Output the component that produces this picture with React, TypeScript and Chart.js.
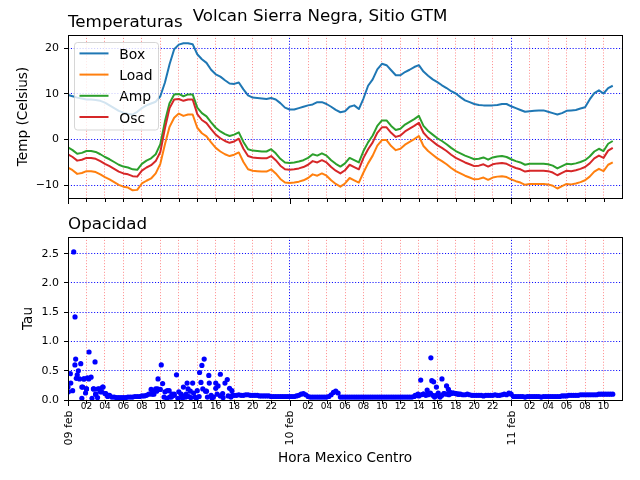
import React, { useEffect, useRef } from "react";
import { Chart, registerables } from "chart.js";

Chart.register(...registerables);

const FONT = '"DejaVu Sans", sans-serif';

// ---------- data ----------
const TEMP_STEP_HOURS = 0.5; // hours since 09 feb 00:00
const seriesNames = ["Box", "Load", "Amp", "Osc"];
const seriesColors = ["#1f77b4", "#ff7f0e", "#2ca02c", "#d62728"];

const boxTemp = [
  9.8, 9.5, 9.2, 9.0, 8.8, 8.8, 8.7, 8.5, 8.1, 7.5, 6.9, 6.3, 5.9, 5.6, 5.5, 6.1, 6.9, 7.5, 7.9, 8.3,
  9.5, 12.5, 16.5, 19.8, 20.8, 21.1, 21.1, 20.9, 18.7, 17.6, 16.8, 15.3, 14.3, 13.8, 13.0, 12.3, 12.2, 12.5, 11.0, 9.7,
  9.2, 9.1, 9.0, 8.9, 9.1, 8.8, 8.0, 7.0, 6.6, 6.6, 6.9, 7.2, 7.5, 7.7, 8.2, 8.2, 7.8, 7.2, 6.5, 6.0,
  6.2, 7.2, 7.5, 6.7, 9.0, 11.8, 13.2, 15.4, 16.6, 16.3, 15.2, 14.1, 14.1, 14.8, 15.3, 15.9, 16.3, 14.9, 14.0, 13.2,
  12.6, 11.9, 11.3, 10.6, 10.1, 9.3, 8.6, 8.2, 7.8, 7.6, 7.5, 7.5, 7.5, 7.6, 7.8, 7.8, 7.3, 6.9, 6.5, 6.1,
  6.2, 6.3, 6.4, 6.4, 6.1, 5.8, 5.5, 5.8, 6.3, 6.4, 6.5, 6.8, 7.1, 8.8, 10.2, 10.8, 10.1, 11.3, 11.8,
];
const loadTemp = [
  -6.1, -6.7, -7.5, -7.3, -6.9, -6.9, -7.1, -7.6, -8.2, -8.7, -9.3, -9.9, -10.3, -10.5, -11.1, -11.0, -9.6, -9.0, -8.5, -7.4,
  -5.3, -1.0, 2.8, 4.8, 5.7, 5.2, 5.5, 5.5, 2.6, 1.4, 0.7, -0.6, -1.8, -2.6, -3.2, -3.6, -3.3, -2.8, -4.9, -6.5,
  -6.8, -6.9, -7.0, -7.0, -6.5, -7.4, -8.6, -9.4, -9.5, -9.4, -9.2, -8.9, -8.4, -7.6, -7.9, -7.4, -7.9, -8.9, -9.7, -10.3,
  -9.6, -8.4, -8.9, -9.4, -7.2, -5.2, -3.5, -1.3, -0.1, -0.1, -1.4, -2.3, -2.0, -1.1, -0.5, 0.1, 0.8, -1.4, -2.5, -3.3,
  -4.1, -4.7, -5.4, -6.2, -6.9, -7.4, -7.9, -8.3, -8.7, -8.6, -8.3, -8.8, -8.3, -8.1, -8.0, -8.2, -8.7, -9.1, -9.4, -9.9,
  -9.7, -9.7, -9.7, -9.7, -9.8, -10.1, -10.7, -10.2, -9.7, -9.8, -9.6, -9.3, -8.9, -8.1, -7.0, -6.4, -6.9, -5.5, -5.0,
];
const ampTemp = [
  -1.7, -2.3, -3.1, -2.9, -2.5, -2.5, -2.7, -3.2, -3.8, -4.3, -4.9, -5.5, -5.9, -6.1, -6.5, -6.6, -5.3, -4.6, -4.1, -3.2,
  -1.0, 4.0, 8.0, 9.9, 10.0, 9.5, 9.9, 9.9, 7.0, 5.8, 5.1, 3.8, 2.6, 1.8, 1.2, 0.8, 1.1, 1.6, -0.5, -2.1,
  -2.4, -2.5, -2.6, -2.6, -2.1, -3.0, -4.2, -5.0, -5.1, -5.0, -4.8, -4.5, -4.0, -3.2, -3.5, -3.0, -3.5, -4.5, -5.3, -5.9,
  -5.2, -4.0, -4.5, -5.0, -2.5, -0.6, 0.9, 3.0, 4.2, 4.2, 3.0, 2.1, 2.4, 3.3, 3.9, 4.5, 5.2, 3.0, 1.9, 1.1,
  0.3, -0.3, -1.0, -1.8, -2.5, -3.0, -3.5, -3.9, -4.3, -4.2, -3.9, -4.4, -3.9, -3.7, -3.6, -3.8, -4.3, -4.7, -5.0, -5.5,
  -5.3, -5.3, -5.3, -5.3, -5.4, -5.7, -6.3, -5.8, -5.3, -5.4, -5.2, -4.9, -4.5, -3.7, -2.6, -2.0, -2.5, -0.9, -0.3,
];
const oscTemp = [
  -3.2, -3.8, -4.6, -4.4, -4.0, -4.0, -4.2, -4.7, -5.3, -5.8, -6.4, -7.0, -7.4, -7.6, -8.0, -8.1, -6.8, -6.1, -5.6, -4.7,
  -2.7, 2.5, 6.9, 8.8, 8.9, 8.5, 8.8, 8.8, 5.6, 4.3, 3.6, 2.3, 1.1, 0.3, -0.3, -0.7, -0.4, 0.2, -2.0, -3.6,
  -3.9, -4.0, -4.1, -4.1, -3.6, -4.5, -5.7, -6.5, -6.6, -6.5, -6.3, -6.0, -5.5, -4.7, -5.0, -4.5, -5.0, -6.0, -6.8, -7.4,
  -6.7, -5.5, -6.0, -6.5, -4.0, -2.1, -0.6, 1.5, 2.7, 2.7, 1.5, 0.6, 0.9, 1.8, 2.4, 3.0, 3.7, 1.5, 0.4, -0.4,
  -1.2, -1.8, -2.5, -3.3, -4.0, -4.5, -5.0, -5.4, -5.8, -5.7, -5.4, -5.9, -5.4, -5.2, -5.1, -5.3, -5.8, -6.2, -6.5, -7.0,
  -6.8, -6.8, -6.8, -6.8, -6.9, -7.2, -7.8, -7.3, -6.8, -6.9, -6.7, -6.4, -6.0, -5.2, -4.1, -3.5, -4.0, -2.4, -1.8,
];
const tempSeries = [boxTemp, loadTemp, ampTemp, oscTemp];

const TAU_STEP_HOURS = 0.25;
const tauValues = [
  0.22, 0.45, 0.16, 0.60, 0.43, 0.36, 0.22, 0.36, 0.19, 0.36, 0.39, 0.19, 0.10, 0.19, 0.14, 0.22,
  0.11, 0.08, 0.08, 0.05, 0.05, 0.04, 0.04, 0.04, 0.04, 0.04, 0.05, 0.05, 0.05, 0.06, 0.06, 0.06,
  0.07, 0.07, 0.08, 0.10, 0.18, 0.15, 0.19, 0.36, 0.18, 0.28, 0.14, 0.16, 0.05, 0.10, 0.08, 0.43,
  0.14, 0.10, 0.22, 0.05, 0.19, 0.15, 0.29, 0.05, 0.16, 0.47, 0.59, 0.70, 0.15, 0.42, 0.08, 0.05,
  0.29, 0.24, 0.44, 0.11, 0.29, 0.35, 0.20, 0.16, 0.08, 0.08, 0.09, 0.08, 0.08, 0.09, 0.09, 0.08,
  0.08, 0.08, 0.08, 0.07, 0.07, 0.07, 0.07, 0.07, 0.06, 0.06, 0.06, 0.06, 0.06, 0.06, 0.06, 0.06,
  0.06, 0.06, 0.06, 0.07, 0.08, 0.10, 0.11, 0.09, 0.06, 0.05, 0.05, 0.05, 0.05, 0.05, 0.05, 0.05,
  0.05, 0.06, 0.09, 0.13, 0.15, 0.12, 0.05, 0.05, 0.05, 0.05, 0.05, 0.05, 0.05, 0.05, 0.05, 0.05,
  0.05, 0.05, 0.05, 0.05, 0.05, 0.05, 0.05, 0.05, 0.05, 0.05, 0.05, 0.05, 0.05, 0.05, 0.05, 0.05,
  0.05, 0.05, 0.05, 0.05, 0.05, 0.05, 0.06, 0.08, 0.07, 0.09, 0.10, 0.08, 0.09, 0.12, 0.08, 0.07,
  0.09, 0.06, 0.08, 0.11, 0.10, 0.09, 0.11, 0.12, 0.11, 0.10, 0.10, 0.09, 0.09, 0.10, 0.09, 0.08,
  0.08, 0.08, 0.08, 0.08, 0.07, 0.08, 0.08, 0.08, 0.08, 0.09, 0.08, 0.08, 0.09, 0.10, 0.09, 0.12,
  0.10, 0.06, 0.06, 0.06, 0.06, 0.06, 0.05, 0.06, 0.06, 0.06, 0.06, 0.06, 0.06, 0.05, 0.06, 0.06,
  0.06, 0.06, 0.06, 0.06, 0.06, 0.06, 0.07, 0.07, 0.07, 0.08, 0.08, 0.08, 0.08, 0.08, 0.09, 0.09,
  0.09, 0.09, 0.09, 0.09, 0.09, 0.09, 0.10, 0.10, 0.10, 0.10, 0.10, 0.10, 0.10,
];
const tauExtraHours = [
  0.62, 0.76, 2.28, 2.93, 10.1, 39.3, 0.05, 0.3, 0.83, 1.12, 1.38, 1.5, 1.6, 1.7, 1.9, 2.0, 2.1, 2.6,
  2.8, 3.0, 3.2, 3.4, 3.65, 3.8, 4.1, 4.3, 0.9, 9.1, 9.3, 9.6, 9.7, 10.4, 10.7, 10.95, 11.2, 11.5,
  11.9, 12.3, 12.4, 12.8, 12.9, 13.1, 13.3, 13.6, 13.9, 14.2, 14.4, 14.6, 14.9, 15.1, 15.3, 15.6, 16.0,
  16.15, 16.5, 16.8, 17.35, 17.65, 17.8, 37.6, 37.9, 38.2, 38.5, 38.9, 39.0, 39.4, 39.6, 39.7, 39.9,
  40.1, 40.3, 40.5, 40.7, 41.0, 41.2, 41.4, 41.7, 42.0, 42.3,
];
const tauExtraValues = [
  2.53, 1.42, 0.82, 0.65, 0.60, 0.72, 0.14, 0.29, 0.70, 0.50, 0.62, 0.03, 0.22, 0.36, 0.12, 0.19, 0.38, 0.03,
  0.19, 0.10, 0.04, 0.19, 0.14, 0.22, 0.11, 0.06, 0.37, 0.10, 0.10, 0.15, 0.19, 0.05, 0.03, 0.16, 0.05, 0.10,
  0.03, 0.08, 0.03, 0.10, 0.29, 0.06, 0.04, 0.12, 0.03, 0.06, 0.30, 0.19, 0.15, 0.05, 0.29, 0.03, 0.20,
  0.10, 0.07, 0.04, 0.07, 0.05, 0.08, 0.08, 0.10, 0.34, 0.10, 0.17, 0.11, 0.33, 0.31, 0.05, 0.22,
  0.12, 0.05, 0.36, 0.11, 0.24, 0.18, 0.13, 0.12, 0.11, 0.10,
];

const xTickHours = [
  0, 2, 4, 6, 8, 10, 12, 14, 16, 18, 20, 22, 24, 26, 28, 30, 32, 34, 36, 38, 40, 42, 44, 46, 48, 50, 52, 54, 56, 58,
];
const dayLabels = ["09 feb", "10 feb", "11 feb"];
const tempTicks = [-10, 0, 10, 20];
const tauTicks = [0, 0.5, 1.0, 1.5, 2.0, 2.5];

// ---------- layout ----------
const AX_LEFT = 68;
const AX_RIGHT = 622;
const TOP1 = 35;
const BOT1 = 198;
const TOP2 = 237;
const BOT2 = 400;
const W = 640;
const H = 480;

const DOT = [1.1, 1.8];

const xGridColor = (c: any) =>
  c.tick && Math.round(c.tick.value) % 24 === 0 ? "rgba(0,0,255,0.95)" : "rgba(255,0,0,0.42)";

function xScale(axisHeight: number) {
  return {
    type: "linear",
    min: 0,
    max: 60,
    afterBuildTicks: (s: any) => {
      s.ticks = xTickHours.map((v) => ({ value: v }));
    },
    afterFit: (s: any) => {
      s.height = axisHeight;
    },
    ticks: { display: false },
    grid: { color: xGridColor, lineWidth: 1, drawTicks: false },
    border: { display: false, dash: DOT },
  };
}

function yScale(min: number, max: number, ticks: number[], fmt: (v: number) => string) {
  return {
    type: "linear",
    min,
    max,
    afterBuildTicks: (s: any) => {
      s.ticks = ticks.map((v) => ({ value: v }));
    },
    afterFit: (s: any) => {
      s.width = AX_LEFT;
    },
    ticks: {
      autoSkip: false,
      color: "#000",
      padding: 5,
      font: { family: FONT, size: 11 },
      callback: (v: any) => fmt(Number(v)),
    },
    grid: { color: "rgba(0,0,255,0.95)", lineWidth: 1, tickLength: 4, tickColor: "#000", tickWidth: 1 },
    border: { display: false, dash: DOT },
  };
}

function drawFrameAndTicks(chart: any) {
  const { ctx, chartArea } = chart;
  const { left, right, top, bottom } = chartArea;
  const xs = chart.scales.x;
  ctx.save();
  ctx.strokeStyle = "#000";
  ctx.lineWidth = 1;
  ctx.strokeRect(left + 0.5, top + 0.5, right - left, bottom - top);
  ctx.beginPath();
  xTickHours.forEach((h) => {
    const x = Math.round(xs.getPixelForValue(h)) + 0.5;
    const len = h % 24 === 0 ? 5 : 3;
    ctx.moveTo(x, bottom + 1);
    ctx.lineTo(x, bottom + 1 + len);
  });
  ctx.stroke();
  ctx.restore();
}

function text(ctx: any, s: string, x: number, y: number, size: number, align: string, rot = 0) {
  ctx.save();
  ctx.translate(x, y);
  if (rot) ctx.rotate(rot);
  ctx.fillStyle = "#000";
  ctx.font = `${size}px ${FONT}`;
  ctx.textAlign = align;
  ctx.textBaseline = "alphabetic";
  ctx.fillText(s, 0, 0);
  ctx.restore();
}

const topPlugin = {
  id: "topDecor",
  afterDatasetsDraw(chart: any) {
    const { ctx, chartArea } = chart;
    const lx = chartArea.left + 6.5;
    const ly = chartArea.top + 7.5;
    const lw = 84;
    const lh = 87.5;
    const r = 3;
    ctx.save();
    ctx.beginPath();
    ctx.moveTo(lx + r, ly);
    ctx.lineTo(lx + lw - r, ly);
    ctx.arcTo(lx + lw, ly, lx + lw, ly + r, r);
    ctx.lineTo(lx + lw, ly + lh - r);
    ctx.arcTo(lx + lw, ly + lh, lx + lw - r, ly + lh, r);
    ctx.lineTo(lx + r, ly + lh);
    ctx.arcTo(lx, ly + lh, lx, ly + lh - r, r);
    ctx.lineTo(lx, ly + r);
    ctx.arcTo(lx, ly, lx + r, ly, r);
    ctx.closePath();
    ctx.fillStyle = "rgba(255,255,255,0.8)";
    ctx.fill();
    ctx.strokeStyle = "rgba(204,204,204,0.8)";
    ctx.lineWidth = 1;
    ctx.stroke();
    chart.data.datasets.forEach((ds: any, i: number) => {
      const y = ly + 10.9 + i * 21.2;
      ctx.beginPath();
      ctx.strokeStyle = ds.borderColor;
      ctx.lineWidth = 2;
      ctx.moveTo(lx + 5, y);
      ctx.lineTo(lx + 34, y);
      ctx.stroke();
      text(ctx, ds.label, lx + 44.8, y + 5.5, 13.9, "left");
    });
    ctx.restore();
  },
  afterDraw(chart: any) {
    const { ctx, chartArea } = chart;
    drawFrameAndTicks(chart);
    text(ctx, "Volcan Sierra Negra, Sitio GTM", 320, 21.3, 16.7, "center");
    text(ctx, "Temperaturas", chartArea.left, 26.5, 16.7, "left");
    text(ctx, "Temp (Celsius)", 26.7, (chartArea.top + chartArea.bottom) / 2, 13.6, "center", -Math.PI / 2);
  },
};

const bottomPlugin = {
  id: "bottomDecor",
  afterDraw(chart: any) {
    const { ctx, chartArea } = chart;
    const xs = chart.scales.x;
    drawFrameAndTicks(chart);
    xTickHours.forEach((h) => {
      const x = xs.getPixelForValue(h);
      if (h % 24 === 0) {
        ctx.save();
        ctx.translate(x + 3.5, chartArea.bottom + 10.5);
        ctx.rotate(-Math.PI / 2);
        ctx.fillStyle = "#000";
        ctx.font = `11px ${FONT}`;
        ctx.textAlign = "right";
        ctx.textBaseline = "alphabetic";
        ctx.fillText(dayLabels[h / 24], 0, 0);
        ctx.restore();
      } else {
        text(ctx, String(h % 24).padStart(2, "0"), x, chartArea.bottom + 9.3, 9, "center");
      }
    });
    text(ctx, "Opacidad", chartArea.left, 229, 16.7, "left");
    text(ctx, "Tau", 31.7, (chartArea.top + chartArea.bottom) / 2, 13.6, "center", -Math.PI / 2);
    text(ctx, "Hora Mexico Centro", (chartArea.left + chartArea.right) / 2, 462, 13.6, "center");
  },
};

const fmtTemp = (v: number) => (v < 0 ? "\u2212" + Math.abs(v) : String(v));
const fmtTau = (v: number) => v.toFixed(1);

export default function App() {
  const ref1 = useRef<HTMLCanvasElement | null>(null);
  const ref2 = useRef<HTMLCanvasElement | null>(null);

  useEffect(() => {
    document.body.style.margin = "0";
    const orders = [3, 2, 1, 0];
    const c1 = new Chart(ref1.current as HTMLCanvasElement, {
      type: "line",
      data: {
        datasets: tempSeries.map((vals, k) => ({
          label: seriesNames[k],
          data: vals.map((v, i) => ({ x: i * TEMP_STEP_HOURS, y: v })),
          borderColor: seriesColors[k],
          backgroundColor: seriesColors[k],
          borderWidth: 2,
          pointRadius: 0,
          tension: 0,
          fill: false,
          borderJoinStyle: "round",
          order: orders[k],
        })),
      },
      options: {
        responsive: false,
        animation: false,
        devicePixelRatio: 1,
        events: [],
        layout: { padding: { left: 0, right: W - AX_RIGHT, top: TOP1, bottom: 0 } },
        plugins: { legend: { display: false }, tooltip: { enabled: false }, title: { display: false } },
        scales: {
          x: xScale(H - BOT1) as any,
          y: yScale(-12.78, 22.91, tempTicks, fmtTemp) as any,
        },
      },
      plugins: [topPlugin],
    } as any);

    const tauData = tauValues
      .map((v, i) => ({ x: i * TAU_STEP_HOURS, y: v }))
      .concat(tauExtraHours.map((h, i) => ({ x: h, y: tauExtraValues[i] })));

    const c2 = new Chart(ref2.current as HTMLCanvasElement, {
      type: "scatter",
      data: {
        datasets: [
          {
            label: "Tau",
            data: tauData,
            backgroundColor: "#0000ff",
            borderColor: "#0000ff",
            borderWidth: 0,
            pointRadius: 2.6,
          },
        ],
      },
      options: {
        responsive: false,
        animation: false,
        devicePixelRatio: 1,
        events: [],
        layout: { padding: { left: 0, right: W - AX_RIGHT, top: TOP2, bottom: 0 } },
        plugins: { legend: { display: false }, tooltip: { enabled: false }, title: { display: false } },
        scales: {
          x: xScale(H - BOT2) as any,
          y: yScale(0, 2.785, tauTicks, fmtTau) as any,
        },
      },
      plugins: [bottomPlugin],
    } as any);

    return () => {
      c1.destroy();
      c2.destroy();
    };
  }, []);

  const cs: React.CSSProperties = { position: "absolute", left: 0, top: 0, width: W, height: H, display: "block" };
  return (
    <div style={{ position: "absolute", left: 0, top: 0, width: W, height: H, background: "#fff", overflow: "hidden" }}>
      <canvas ref={ref1} width={W} height={H} style={cs} />
      <canvas ref={ref2} width={W} height={H} style={cs} />
    </div>
  );
}
